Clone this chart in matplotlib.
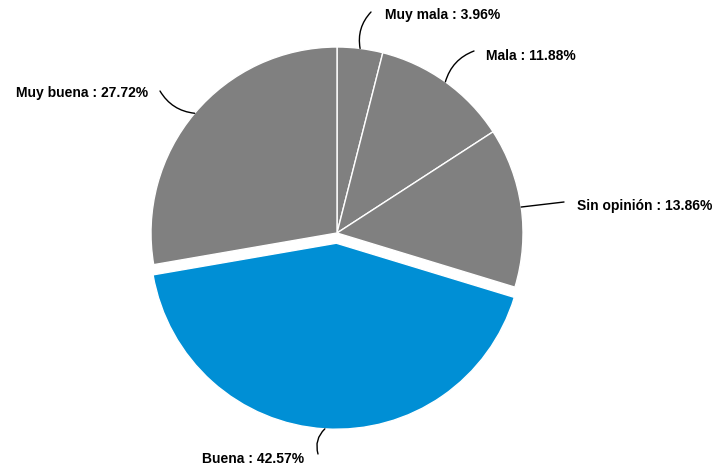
import numpy as np
import matplotlib
matplotlib.use("Agg")
import matplotlib.pyplot as plt

# datos del gráfico
categorias = ["Muy mala", "Mala", "Sin opinión", "Buena", "Muy buena"]
porcentajes = [3.96, 11.88, 13.86, 42.57, 27.72]
colores = ["#808080", "#808080", "#808080", "#008fd5", "#808080"]
separar = [0, 0, 0, 0.055, 0]

W, H = 717, 472
fig = plt.figure(figsize=(W / 100, H / 100), dpi=100)
ax = fig.add_axes([0, 0, 1, 1])

cx, cy, r = 337, H - 233, 186
# en pie() el explode va en unidades de datos, no relativo al radio
ax.pie(porcentajes, colors=colores, explode=[e * r for e in separar],
       startangle=90, counterclock=False, center=(cx, cy), radius=r,
       wedgeprops=dict(edgecolor="white", linewidth=1))
ax.set_xlim(0, W)
ax.set_ylim(0, H)
ax.set_aspect("equal")
ax.axis("off")

# posición de las etiquetas (pixeles, y desde arriba)
etiquetas = {
    "Muy mala": ((371, 12), (385, 15), "left", 0.25),
    "Mala": ((474, 51), (486, 56), "left", 0.25),
    "Sin opinión": ((564, 202), (577, 206), "left", 0.0),
    "Buena": ((318, 454), (304, 459), "right", -0.3),
    "Muy buena": ((160, 91), (148, 93), "right", 0.25),
}

acum = 0
for cat, p, exp in zip(categorias, porcentajes, separar):
    mid = np.deg2rad(90 - (acum + p / 2) * 3.6)
    acum += p
    rr = r * (1 + exp)
    x0 = cx + rr * np.cos(mid)
    y0 = cy + rr * np.sin(mid)
    (lx, ly), (tx, ty), ha, rad = etiquetas[cat]
    ax.annotate("", xy=(x0, y0), xytext=(lx, H - ly),
                arrowprops=dict(arrowstyle="-", color="black", lw=1,
                                shrinkA=0, shrinkB=0,
                                connectionstyle=f"arc3,rad={rad}"))
    ax.text(tx, H - ty, f"{cat} : {p:.2f}%", ha=ha, va="center",
            fontsize=10, fontweight="bold", family="Liberation Sans")

fig.savefig("out.png", dpi=100)
